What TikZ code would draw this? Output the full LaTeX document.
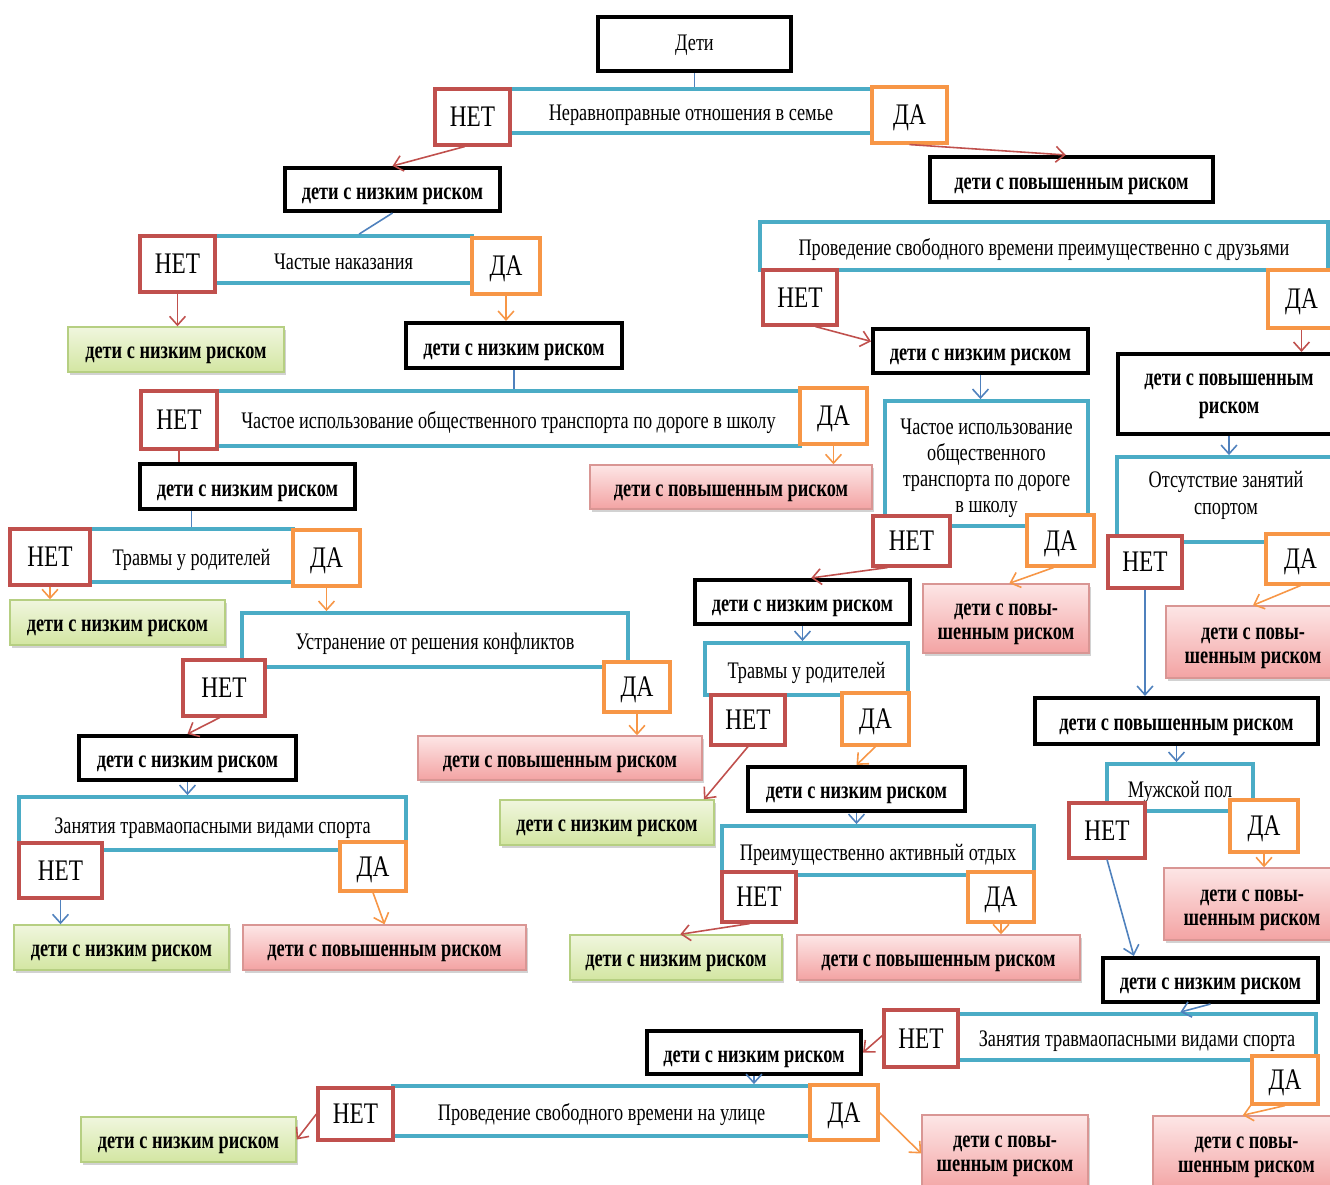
\documentclass[tikz,border=0pt]{standalone}
\usepackage{fontspec}
\usetikzlibrary{arrows.meta,calc,shadows}
\newfontfamily\qf{Liberation Serif}[FakeStretch=0.77]
\newfontfamily\rf{Liberation Serif}[FakeStretch=0.745]
\newfontfamily\nf{Liberation Serif}[FakeStretch=0.78]
\definecolor{qblue}{HTML}{4BACC6}
\definecolor{nred}{HTML}{C0504D}
\definecolor{yorange}{HTML}{F79646}
\definecolor{lblue}{HTML}{4F81BD}
\definecolor{gtop}{HTML}{F0F6DE}
\definecolor{gbot}{HTML}{D3E6A2}
\definecolor{gbord}{HTML}{B6CF82}
\definecolor{ptop}{HTML}{FDE6E6}
\definecolor{pbot}{HTML}{F3A3A3}
\definecolor{pbord}{HTML}{D99694}
\renewcommand\arraystretch{1}
\newcommand\bx[7]{\node[#2, minimum width={(#5-#3)*0.02cm}, minimum height={(#6-#4)*0.02cm}] (#1) at ({(#3+#5)/2},{(#4+#6)/2}) {\raisebox{\dimexpr\tshift-0.25em\relax}[0pt][0pt]{\begin{tabular}{@{}c@{}}#7\end{tabular}}};}
\tikzset{
  tshift/.store in=\tshift, tshift=0pt,
  base/.style={inner sep=1pt},
  qbox/.style={base, draw=qblue, line width=2.2pt, fill=white, tshift=-2.7pt, font=\qf\fontsize{13.5}{15.5}\selectfont},
  nobox/.style={base, draw=nred, line width=1.8pt, fill=white, tshift=-1.9pt, font=\nf\fontsize{17}{19}\selectfont},
  yesbox/.style={base, draw=yorange, line width=1.8pt, fill=white, tshift=-1.9pt, font=\nf\fontsize{17}{19}\selectfont},
  rfont/.style={font=\rf\bfseries\fontsize{14}{16}\selectfont},
  rbox/.style={base, rfont, draw=black, line width=2.3pt, fill=white, tshift=-2.5pt},
  gbox/.style={base, rfont, draw=gbord, line width=0.8pt, top color=gtop, bottom color=gbot, tshift=-2.2pt,
     drop shadow={opacity=0.35, shadow xshift=1.2pt, shadow yshift=-1.5pt}},
  pbox/.style={base, rfont, draw=pbord, line width=0.8pt, top color=ptop, bottom color=pbot, tshift=-2.2pt,
     drop shadow={opacity=0.35, shadow xshift=1.2pt, shadow yshift=-1.5pt}},
  tip/.style={-{Straight Barb[length=5pt,width=9pt]}, line width=0.9pt},
  ra/.style={tip, draw=nred},
  oa/.style={tip, draw=yorange},
  ba/.style={tip, draw=lblue},
  bl/.style={draw=lblue, line width=0.9pt},
}
\begin{document}
\begin{tikzpicture}[x=0.02cm,y=-0.02cm]
\useasboundingbox[fill=white] (0,0) rectangle (1330,1185);
% ---------- question boxes ----------
\bx{q1}{qbox}{510}{89}{872}{133}{Неравноправные отношения в семье}
\bx{q2}{qbox}{215}{236}{472}{283}{Частые наказания}
\bx{q3}{qbox}{217}{391}{800}{446}{Частое использование общественного транспорта по дороге в школу}
\bx{q4}{qbox}{90}{529}{293}{582}{Травмы у родителей}
\bx{q5}{qbox}{242}{613}{628}{667}{Устранение от решения конфликтов}
\bx{q6}{qbox}{19}{797}{406}{850}{Занятия травмаопасными видами спорта}
\bx{q7}{qbox}{760}{222}{1328}{270}{Проведение свободного времени преимущественно с друзьями}
\bx{q8}{qbox, tshift=-2.8pt}{885}{401}{1088}{526}{Частое использование\\[-0.8pt]общественного\\[-0.8pt]транспорта по дороге\\[-0.8pt]в школу}
\bx{q9}{qbox}{705}{643}{908}{695}{Травмы у родителей}
\bx{q10}{qbox}{722}{826}{1034}{875}{Преимущественно активный отдых}
\bx{q11}{qbox, tshift=2pt}{1117}{457}{1335}{542}{Отсутствие занятий\\спортом}
\bx{q12}{qbox}{1107}{764}{1253}{811}{Мужской пол}
\bx{q13}{qbox}{958}{1014}{1316}{1060}{Занятия травмаопасными видами спорта}
\bx{q14}{qbox}{393}{1086}{810}{1136}{Проведение свободного времени на улице}
% ---------- yes / no boxes ----------
\bx{n1}{nobox}{435}{89}{510}{145}{НЕТ}
\bx{y1}{yesbox}{872}{87}{947}{143}{ДА}
\bx{n2}{nobox}{140}{236}{215}{292}{НЕТ}
\bx{y2}{yesbox}{472}{238}{540}{294}{ДА}
\bx{n3}{nobox}{141}{391}{217}{449}{НЕТ}
\bx{y3}{yesbox}{800}{388}{867}{444}{ДА}
\bx{n4}{nobox}{10}{529}{90}{585}{НЕТ}
\bx{y4}{yesbox}{293}{530}{360}{586}{ДА}
\bx{n5}{nobox}{183}{660}{265}{716}{НЕТ}
\bx{y5}{yesbox}{604}{662}{670}{712}{ДА}
\bx{n6}{nobox}{19}{843}{102}{898}{НЕТ}
\bx{y6}{yesbox}{340}{842}{406}{891}{ДА}
\bx{n7}{nobox}{763}{270}{837}{325}{НЕТ}
\bx{y7}{yesbox}{1268}{270}{1335}{328}{ДА}
\bx{n8}{nobox}{873}{516}{950}{566}{НЕТ}
\bx{y8}{yesbox}{1027}{515}{1094}{566}{ДА}
\bx{n9}{nobox}{711}{695}{785}{745}{НЕТ}
\bx{y9}{yesbox}{842}{693}{909}{745}{ДА}
\bx{n10}{nobox}{722}{872}{796}{922}{НЕТ}
\bx{y10}{yesbox}{968}{872}{1034}{922}{ДА}
\bx{n11}{nobox}{1108}{536}{1182}{588}{НЕТ}
\bx{y11}{yesbox}{1266}{534}{1335}{584}{ДА}
\bx{n12}{nobox}{1069}{803}{1145}{858}{НЕТ}
\bx{y12}{yesbox}{1230}{800}{1298}{852}{ДА}
\bx{n13}{nobox}{884}{1010}{958}{1067}{НЕТ}
\bx{y13}{yesbox}{1252}{1056}{1318}{1104}{ДА}
\bx{n14}{nobox}{318}{1088}{393}{1140}{НЕТ}
\bx{y14}{yesbox}{810}{1085}{878}{1140}{ДА}
% ---------- result boxes ----------
\bx{root}{rbox, font=\qf\fontsize{13.5}{15.5}\selectfont, line width=2.5pt, tshift=-1pt}{598}{17}{791}{71}{Дети}
\bx{r1}{rbox}{285}{168}{500}{211}{дети с низким риском}
\bx{r2}{rbox}{930}{157}{1213}{202}{дети с повышенным риском}
\bx{r3}{rbox}{406}{323}{622}{368}{дети с низким риском}
\bx{r4}{rbox}{140}{464}{355}{509}{дети с низким риском}
\bx{r5}{rbox}{79}{736}{296}{780}{дети с низким риском}
\bx{r6}{rbox}{873}{329}{1088}{373}{дети с низким риском}
\bx{r7}{rbox, tshift=0pt}{1118}{354}{1340}{434}{дети с повышенным\\риском}
\bx{r8}{rbox}{695}{580}{910}{624}{дети с низким риском}
\bx{r9}{rbox}{748}{767}{965}{811}{дети с низким риском}
\bx{r10}{rbox}{1035}{698}{1318}{744}{дети с повышенным риском}
\bx{r11}{rbox}{1103}{958}{1318}{1002}{дети с низким риском}
\bx{r12}{rbox}{647}{1031}{861}{1074}{дети с низким риском}
\bx{g1}{gbox}{68}{327}{284}{372}{дети с низким риском}
\bx{g2}{gbox}{10}{600}{225}{645}{дети с низким риском}
\bx{g3}{gbox}{14}{925}{229}{970}{дети с низким риском}
\bx{g4}{gbox}{500}{800}{714}{845}{дети с низким риском}
\bx{g5}{gbox}{570}{935}{782}{980}{дети с низким риском}
\bx{g6}{gbox}{81}{1117}{296}{1162}{дети с низким риском}
\bx{p1}{pbox}{590}{465}{872}{509}{дети с повышенным риском}
\bx{p2}{pbox}{418}{736}{702}{780}{дети с повышенным риском}
\bx{p3}{pbox}{243}{925}{526}{970}{дети с повышенным риском}
\bx{p4}{pbox, tshift=-2.2pt}{923}{584}{1089}{653}{дети с повы-\\[-2.4pt]шенным риском}
\bx{p5}{pbox}{797}{935}{1080}{980}{дети с повышенным риском}
\bx{p6}{pbox, tshift=-2.5pt}{1166}{606}{1340}{678}{дети с повы-\\[-2.4pt]шенным риском}
\bx{p7}{pbox, tshift=-2.2pt}{1164}{868}{1340}{940}{дети с повы-\\[-2.4pt]шенным риском}
\bx{p8}{pbox, tshift=-0.5pt}{1153}{1116}{1340}{1192}{дети с повы-\\[-2.4pt]шенным риском}
\bx{p9}{pbox, tshift=-0.5pt}{922}{1115}{1088}{1192}{дети с повы-\\[-2.4pt]шенным риском}
% ---------- connectors ----------
\draw[bl] (root.south) -- (root.south |- q1.north);
\draw[ra] ($(n1.south west)!0.4!(n1.south east)$) -- (r1.north);
\draw[ra] (y1.south) -- ($(r2.north west)!0.48!(r2.north east)$);
\draw[bl] (r1.south) -- ($(q2.north west)!0.56!(q2.north east)$);
\draw[ra] (n2.south) -- (n2.south |- g1.north);
\draw[oa] (y2.south) -- (y2.south |- r3.north);
\draw[bl] (r3.south) -- (r3.south |- q3.north);
\draw[draw=nred, line width=0.9pt] (n3.south) -- (n3.south |- r4.north);
\draw[oa] (y3.south) -- (y3.south |- p1.north);
\draw[bl] (q4.north) -- (q4.north |- r4.south);
\draw[oa] (n4.south) -- (n4.south |- g2.north);
\draw[oa] (y4.south) -- (y4.south |- q5.north);
\draw[ra] ($(n5.south west)!0.45!(n5.south east)$) -- (r5.north);
\draw[oa] (y5.south) -- (y5.south |- p2.north);
\draw[ba] (r5.south) -- (r5.south |- q6.north);
\draw[ba] (n6.south) -- (n6.south |- g3.north);
\draw[oa] (y6.south) -- (p3.north);
\draw[bl] ($(r2.south west)!0.56!(r2.south east)$) -- ($(r2.south west)!0.56!(r2.south east)$ |- q7.north);
\draw[ra] ($(n7.south west)!0.7!(n7.south east)$) -- ($(r6.north west)!0.3!(r6.south west)$);
\draw[ra] (y7.south) -- (y7.south |- r7.north);
\draw[ba] (r6.south) -- (r6.south |- q8.north);
\draw[ra] ($(n8.south west)!0.2!(n8.south east)$) -- ($(r8.north west)!0.54!(r8.north east)$);
\draw[oa] ($(y8.south west)!0.4!(y8.south east)$) -- ($(p4.north west)!0.52!(p4.north east)$);
\draw[ba] (r8.south) -- (r8.south |- q9.north);
\draw[ra] (n9.south) -- ($(g4.north west)!0.95!(g4.north east)$);
\draw[oa] (y9.south) -- (r9.north);
\draw[ba] (r9.south) -- (r9.south |- q10.north);
\draw[ra] ($(n10.south west)!0.38!(n10.south east)$) -- ($(g5.north west)!0.52!(g5.north east)$);
\draw[oa] (y10.south) -- (y10.south |- p5.north);
\draw[ba] (r7.south) -- (r7.south |- q11.north);
\draw[oa] ($(y11.south west)!0.5!(y11.south east)$) -- ($(p6.north west)!0.5!(p6.north east)$);
\draw[ba] (n11.south) -- (n11.south |- r10.north);
\draw[ba] (r10.south) -- (r10.south |- q12.north);
\draw[oa] (y12.south) -- (y12.south |- p7.north);
\draw[ba] (n12.south) -- ($(r11.north west)!0.15!(r11.north east)$);
\draw[ba] (r11.south) -- ($(q13.north west)!0.62!(q13.north east)$);
\draw[ra] ($(n13.north west)!0.45!(n13.south west)$) -- (r12.east);
\draw[oa] ($(y13.south west)!0.5!(y13.south east)$) -- ($(p8.north west)!0.48!(p8.north east)$);
\draw[ba] (r12.south) -- (r12.south |- q14.north);
\draw[ra] ($(n14.north west)!0.5!(n14.south west)$) -- (g6.east);
\draw[oa] ($(y14.north east)!0.5!(y14.south east)$) -- (p9.west);
\end{tikzpicture}
\end{document}
